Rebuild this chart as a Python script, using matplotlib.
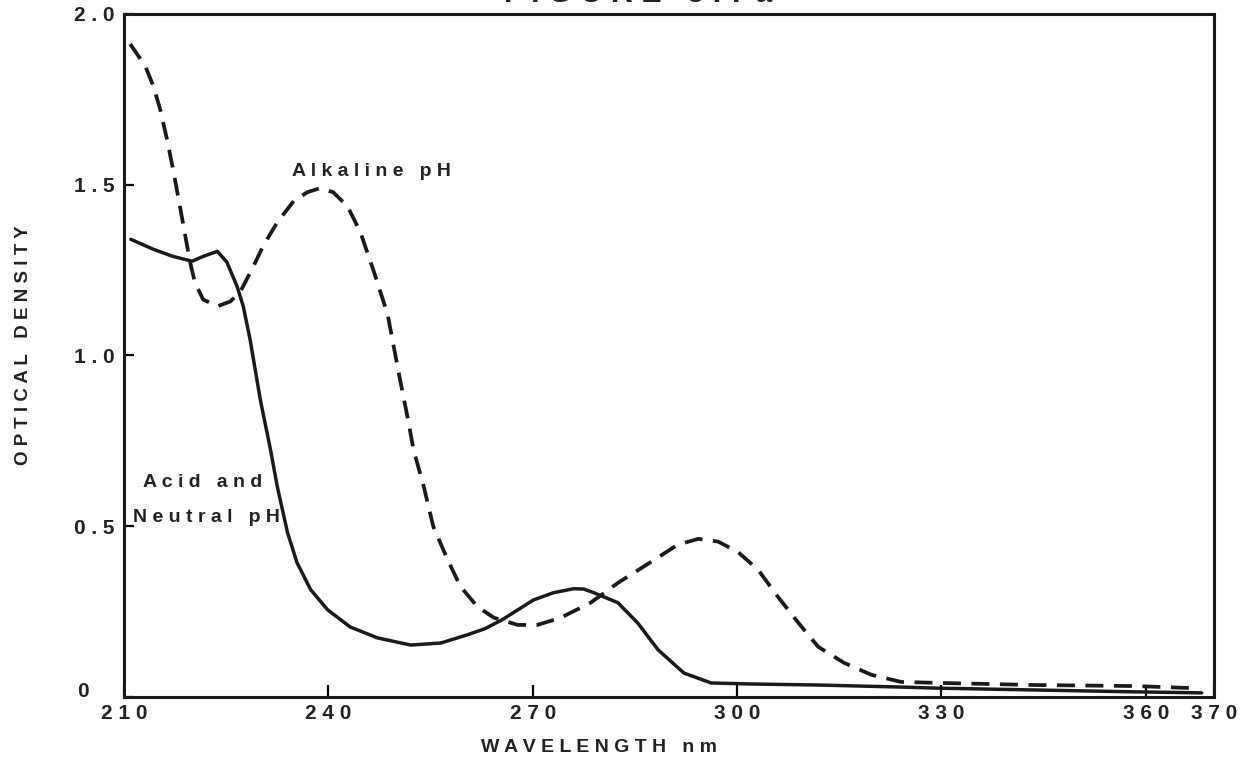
import matplotlib
matplotlib.use("Agg")
import matplotlib.pyplot as plt
import matplotlib.transforms as mtransforms

# Data (wavelength nm, optical density)
acid_x = [211.0, 214.3, 217.2, 220.0, 221.6, 223.7, 225.1, 226.6, 227.5, 228.5, 230.0, 231.5,
          232.5, 234.0, 235.4, 237.4, 239.9, 243.2, 247.2, 252.1, 256.5, 260.4, 263.0, 265.5,
          270.1, 273.0, 276.0, 277.5, 279.0, 282.5, 285.4, 288.4, 292.2, 296.2, 302.1, 311.9,
          324.1, 329.0, 358.4, 368.2]
acid_y = [1.340, 1.311, 1.290, 1.276, 1.290, 1.305, 1.273, 1.202, 1.144, 1.047, 0.871, 0.724,
          0.616, 0.481, 0.393, 0.314, 0.255, 0.205, 0.173, 0.152, 0.158, 0.182, 0.200, 0.226,
          0.284, 0.305, 0.317, 0.316, 0.305, 0.276, 0.217, 0.138, 0.070, 0.041, 0.038, 0.035,
          0.029, 0.026, 0.015, 0.012]

alk_x = [210.9, 213.1, 214.3, 215.3, 216.3, 217.2, 218.2, 219.0, 219.7, 220.4, 221.6, 223.7,
         225.6, 227.1, 229.0, 230.4, 232.5, 234.9, 236.9, 238.8, 240.7, 242.8, 244.7, 246.6,
         248.7, 249.6, 250.6, 251.6, 252.5, 254.0, 255.4, 257.5, 259.4, 261.9, 264.3, 267.8,
         270.7, 274.1, 278.5, 282.5, 287.4, 291.3, 294.3, 297.2, 300.1, 303.1, 306.0, 309.0,
         311.9, 315.7, 319.7, 324.1, 330.0, 343.7, 358.4, 366.8]
alk_y = [1.912, 1.848, 1.789, 1.721, 1.633, 1.545, 1.437, 1.349, 1.273, 1.214, 1.164, 1.144,
         1.158, 1.188, 1.261, 1.320, 1.390, 1.452, 1.478, 1.490, 1.478, 1.437, 1.361, 1.250,
         1.120, 1.025, 0.921, 0.821, 0.724, 0.616, 0.499, 0.402, 0.323, 0.264, 0.232, 0.211,
         0.211, 0.232, 0.276, 0.334, 0.396, 0.446, 0.463, 0.455, 0.425, 0.372, 0.293, 0.217,
         0.147, 0.100, 0.065, 0.044, 0.041, 0.035, 0.032, 0.026]

x_ticks = [210, 240, 270, 300, 330, 360, 370]
x_tick_labels = ["210", "240", "270", "300", "330", "360", "370"]
y_ticks = [0, 0.5, 1.0, 1.5, 2.0]
y_tick_labels = ["0", "0.5", "1.0", "1.5", "2.0"]

title_text = "FIGURE 3.7a"
x_label = "WAVELENGTH nm"
y_label = "OPTICAL DENSITY"
alk_label = "Alkaline pH"
acid_label_1 = "Acid and"
acid_label_2 = "Neutral pH"

plt.rcParams['font.family'] = ['Liberation Sans', 'DejaVu Sans']
INK = '#222222'


def spaced(s):
    # letter-spaced rendering as in the lettering of the original
    return "   ".join(" ".join(w) for w in s.split(" "))


fig = plt.figure(figsize=(12.53, 7.67), dpi=100)
ax = fig.add_axes([0.0990, 0.0913, 0.8698, 0.8905])

ax.plot(acid_x, acid_y, color='#1a1a1a', lw=2.5, solid_capstyle='round',
        solid_joinstyle='round')
ax.plot(alk_x, alk_y, color='#1a1a1a', lw=2.7, ls=(0, (4.8, 2.8)))

ax.set_xlim(210, 370)
ax.set_ylim(0, 2.0)

ax.set_xticks(x_ticks)
ax.set_xticklabels([spaced(t) for t in x_tick_labels], fontsize=15, fontweight='bold', color=INK)
ax.set_yticks(y_ticks)
ax.set_yticklabels([spaced(t) for t in y_tick_labels], fontsize=15, fontweight='bold', color=INK)
ax.tick_params(axis='x', direction='in', length=9, width=1.6, pad=5)
ax.tick_params(axis='y', direction='in', length=7, width=1.6, pad=7)

# the "0" on the y axis sits up and to the left in the original
lbl0 = ax.get_yticklabels()[0]
lbl0.set_transform(lbl0.get_transform() +
                   mtransforms.ScaledTranslation(-26 / 100, 7 / 100, fig.dpi_scale_trans))

for sp in ax.spines.values():
    sp.set_linewidth(2.2)
    sp.set_color('#1a1a1a')

fig.text(0.478, 1 - 747 / 767, spaced(x_label), fontsize=14, fontweight='bold', color=INK,
         ha='center', va='center')
fig.text(24 / 1253, 1 - 345 / 767, spaced(y_label), fontsize=13.5, fontweight='bold', color=INK,
         ha='center', va='center', rotation=90)

ax.text(234.6, 1.54, spaced(alk_label), fontsize=14, fontweight='bold', color=INK,
        va='center', ha='left')
ax.text(212.8, 0.628, spaced(acid_label_1), fontsize=14, fontweight='bold', color=INK,
        va='center', ha='left')
ax.text(211.3, 0.525, spaced(acid_label_2), fontsize=14, fontweight='bold', color=INK,
        va='center', ha='left')

# title of the original, almost entirely cut off by the top edge
fig.text(638 / 1253, 1 - 2.5 / 767, spaced(title_text), fontsize=22, fontweight='bold',
         color=INK, ha='center', va='baseline')

fig.savefig("out.png", dpi=100, facecolor='white')
